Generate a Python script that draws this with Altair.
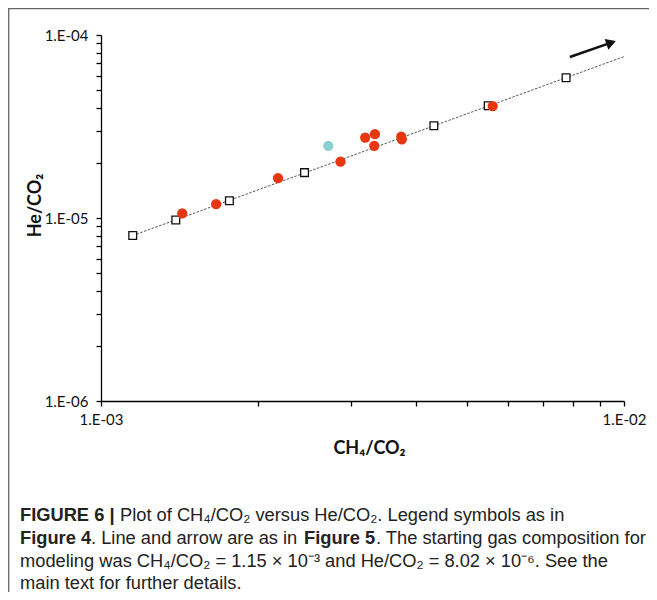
import altair as alt
import pandas as pd

# ---------------- data ----------------
MODEL_X = [1.15e-3, 1.39e-3, 1.76e-3, 2.45e-3, 4.33e-3, 5.50e-3, 7.75e-3]
MODEL_Y = [8.02e-6, 9.75e-6, 1.243e-5, 1.77e-5, 3.19e-5, 4.11e-5, 5.84e-5]

SAMPLE_X = [1.43e-3, 1.66e-3, 2.18e-3, 2.87e-3, 3.20e-3, 3.34e-3, 3.33e-3, 3.75e-3, 3.76e-3, 5.61e-3]
SAMPLE_Y = [1.06e-5, 1.19e-5, 1.65e-5, 2.03e-5, 2.75e-5, 2.87e-5, 2.48e-5, 2.78e-5, 2.69e-5, 4.09e-5]

OTHER_X = [2.72e-3]
OTHER_Y = [2.48e-5]

TREND_X = [1.15e-3, 1.0e-2]
TREND_Y = [8.02e-6, 7.62e-5]

ARROW_X = [7.88e-3, 9.45e-3]
ARROW_Y = [7.58e-5, 9.08e-5]

X_TICKS = [0.001, 0.002, 0.003, 0.004, 0.005, 0.006, 0.007, 0.008, 0.009, 0.01]
X_LABEL_AT = [0.001, 0.01]
X_LABELS = ["1.E-03", "1.E-02"]

Y_TICKS = [1e-6, 2e-6, 3e-6, 4e-6, 5e-6, 6e-6, 7e-6, 8e-6, 9e-6,
           1e-5, 2e-5, 3e-5, 4e-5, 5e-5, 6e-5, 7e-5, 8e-5, 9e-5, 1e-4]
Y_LABEL_AT = [1e-6, 1e-5, 1e-4]
Y_LABELS = ["1.E-06", "1.E-05", "1.E-04"]

X_TITLE = "CH₄/CO₂"
Y_TITLE = "He/CO₂"

CAPTION = [
    [("FIGURE 6 |", True), ("Plot of CH₄/CO₂ versus He/CO₂. Legend symbols as in", False)],
    [("Figure 4", True), (". Line and arrow are as in", False), ("Figure 5", True),
     (". The starting gas composition for", False)],
    [("modeling was CH₄/CO₂ = 1.15 × 10⁻³ and He/CO₂ = 8.02 × 10⁻⁶. See the", False)],
    [("main text for further details.", False)],
]
# ------------------------------------------------------------

W, H = 523, 366
PAD_L, PAD_T, PAD_R, PAD_B = 93, 27, 25, 191


def label_expr(vals, labels):
    parts = [f"abs(datum.value - {v}) < {v * 1e-3} ? '{l}'" for v, l in zip(vals, labels)]
    return " : ".join(parts) + " : ''"


xscale = alt.Scale(type="log", domain=[1e-3, 1e-2], nice=False)
yscale = alt.Scale(type="log", domain=[1e-6, 1e-4], nice=False)

axis_common = dict(
    grid=False, domainColor="#000", domainWidth=1.3, tickColor="#000", tickWidth=1.3,
    tickSize=5, labelFont="Lato", labelFontSize=15, labelColor="#111",
    titleFont="Lato", titleFontSize=18, titleFontWeight="bold", titleColor="#111",
    labelOverlap=False, labelFlush=False,
)

xaxis = alt.Axis(values=X_TICKS, labelExpr=label_expr(X_LABEL_AT, X_LABELS), title=X_TITLE,
                 labelPadding=6, titleX=268, titleY=52, titleBaseline="alphabetic",
                 titleAlign="center", **axis_common)
yaxis = alt.Axis(values=Y_TICKS, labelExpr=label_expr(Y_LABEL_AT, Y_LABELS), title=Y_TITLE,
                 labelPadding=8, titleX=-61, titleY=170, titleAngle=270,
                 titleBaseline="alphabetic", titleAlign="center", **axis_common)


def xy():
    return dict(
        x=alt.X("x:Q", scale=xscale, axis=xaxis),
        y=alt.Y("y:Q", scale=yscale, axis=yaxis),
    )


trend_df = pd.DataFrame({"x": TREND_X, "y": TREND_Y})
model_df = pd.DataFrame({"x": MODEL_X, "y": MODEL_Y})
sample_df = pd.DataFrame({"x": SAMPLE_X, "y": SAMPLE_Y})
other_df = pd.DataFrame({"x": OTHER_X, "y": OTHER_Y})
arrow_df = pd.DataFrame({"x": ARROW_X, "y": ARROW_Y})
head_df = arrow_df.iloc[[1]]

trend = alt.Chart(trend_df).mark_line(color="#555", strokeWidth=1, strokeDash=[2.5, 1.5]).encode(**xy())
model = alt.Chart(model_df).mark_point(shape="square", filled=True, fill="white", stroke="#111",
                                       strokeWidth=1.3, size=60, opacity=1).encode(**xy())
samples = alt.Chart(sample_df).mark_circle(color="#E8360F", size=105, opacity=1).encode(**xy())
other = alt.Chart(other_df).mark_circle(color="#8DCFD0", size=105, opacity=1).encode(**xy())
shaft = alt.Chart(arrow_df).mark_line(color="#111", strokeWidth=2.5).encode(**xy())
head = alt.Chart(head_df).mark_point(shape="triangle-right", filled=True, color="#111", size=130,
                                     angle=341, opacity=1).encode(**xy())

dummy = pd.DataFrame({"a": [0]})

frame_left = alt.Chart(dummy).mark_rule(color="#666", strokeWidth=1.3).encode(
    x=alt.value(-PAD_L + 0.7), y=alt.value(-PAD_T + 0.7), y2=alt.value(H + PAD_B))
frame_top = alt.Chart(dummy).mark_rule(color="#666", strokeWidth=1.3).encode(
    x=alt.value(-PAD_L), x2=alt.value(W + PAD_R), y=alt.value(-PAD_T + 0.7))

# caption text segments (page coordinates converted to plot-relative)
FS = 18.3
line_y = [521, 544, 567, 589]
seg_x = [[20, 120], [20, 91, 304, 376], [20], [20]]
caption_layers = []
for li, segs in enumerate(CAPTION):
    for si, (txt, bold) in enumerate(segs):
        caption_layers.append(
            alt.Chart(dummy).mark_text(
                text=txt, font="Liberation Sans", fontSize=FS,
                fontWeight="bold" if bold else "normal", color="#222",
                align="left", baseline="alphabetic",
            ).encode(x=alt.value(seg_x[li][si] - 8 - PAD_L), y=alt.value(line_y[li] - 8 - PAD_T))
        )

chart = alt.layer(
    trend, model, samples, other, shaft, head, frame_left, frame_top, *caption_layers
).properties(
    width=W, height=H,
    padding={"left": PAD_L, "top": PAD_T, "right": PAD_R, "bottom": PAD_B},
    autosize=alt.AutoSizeParams(type="none"),
    background="white",
).configure_view(strokeWidth=0)

chart.save("out.html", embed_options={"renderer": "svg", "actions": False})
